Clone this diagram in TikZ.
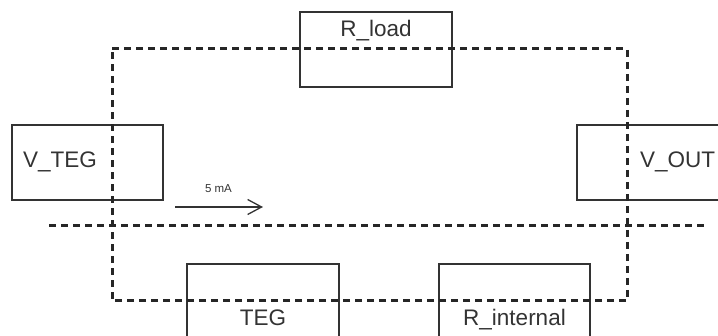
\documentclass[tikz,border=0pt]{standalone}
\usepackage{fontspec}
\setmainfont{Liberation Sans}
\usetikzlibrary{arrows.meta}
\definecolor{ink}{RGB}{51,51,51}
\begin{document}
\begin{tikzpicture}[x=1pt,y=-1pt,
  box/.style={draw=ink, line width=1.3pt, inner sep=0pt},
  boxtext/.style={text=ink, font=\fontsize{22.5}{25}\selectfont, inner sep=0pt},
  wire/.style={draw=black!85, line width=3pt, dash pattern=on 7pt off 5pt},
  flow/.style={draw=ink, line width=1.3pt, -{Straight Barb[length=14pt,width=15pt]}},
  flowtext/.style={text=ink, font=\fontsize{11.5}{13}\selectfont, inner sep=0pt}]
\useasboundingbox (0,0) rectangle (718,336);
\clip (0,0) rectangle (718,336);

% component boxes
\node[box, minimum width=152pt, minimum height=75pt] (rload) at (376,49.5) {};
\node[box, minimum width=151pt, minimum height=75pt] (vteg) at (87.5,162.5) {};
\node[box, minimum width=152pt, minimum height=75pt] (vout) at (653,162.5) {};
\node[box, minimum width=152pt, minimum height=75pt] (teg) at (263,301.5) {};
\node[box, minimum width=151pt, minimum height=75pt] (rint) at (514.5,301.5) {};

% box labels
\node[boxtext, anchor=base] (rloadlbl) at (376,37) {R\_load};
\node[boxtext, anchor=base west] (vteglbl) at (23,168) {V\_TEG};
\node[boxtext, anchor=base west] (voutlbl) at (640,168) {V\_OUT};
\node[boxtext, anchor=base] (teglbl) at (263,326) {TEG};
\node[boxtext, anchor=base] (rintlbl) at (514.5,326) {R\_internal};

% circuit loop
\coordinate (tl) at (112,49);
\coordinate (tr) at (627,49);
\coordinate (br) at (627,301);
\coordinate (bl) at (112,301);
\draw[wire] (tl) -- (tr) -- (br) -- (bl) -- cycle;

% dividing line
\coordinate (dl) at (49,226);
\coordinate (dr) at (705,226);
\draw[wire] (dl) -- (dr);

% current direction
\coordinate (ia) at (175,207);
\coordinate (ib) at (263,207);
\draw[flow] (ia) -- (ib);
\node[flowtext, anchor=base] (ilbl) at (218.5,193) {5 mA};
\end{tikzpicture}
\end{document}
